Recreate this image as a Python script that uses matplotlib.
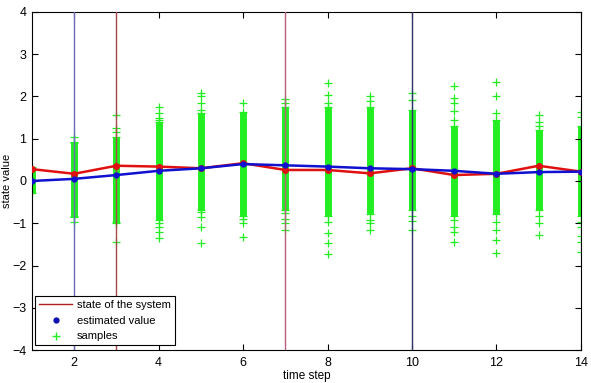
import matplotlib
matplotlib.use("Agg")
import matplotlib.pyplot as plt
from matplotlib.lines import Line2D

plt.rcParams["font.family"] = ["Liberation Sans", "DejaVu Sans"]

# time steps and the two trajectories
steps = [1, 2, 3, 4, 5, 6, 7, 8, 9, 10, 11, 12, 13, 14]
true_state = [0.28, 0.17, 0.36, 0.34, 0.30, 0.42, 0.26, 0.26, 0.18, 0.30, 0.14, 0.17, 0.36, 0.22]
estimate = [0.00, 0.05, 0.14, 0.24, 0.30, 0.40, 0.37, 0.34, 0.30, 0.28, 0.24, 0.17, 0.21, 0.22]

# dense part of each sample cloud (low, high)
dense_low = [-0.29, -0.84, -0.96, -0.92, -0.69, -0.84, -0.69, -0.84, -0.77, -0.69, -0.84, -0.77, -0.69, -0.84]
dense_high = [0.34, 0.89, 1.05, 1.40, 1.60, 1.64, 1.76, 1.76, 1.76, 1.68, 1.29, 1.44, 1.21, 1.29]

# scattered samples outside the dense part
outliers = {
    2: [1.05, 0.93, -0.85, -0.96],
    3: [1.25, 1.17, 1.55, -1.00, -1.44],
    4: [1.76, 1.60, 1.50, 1.45, -1.00, -1.10, -1.20, -1.35],
    5: [2.07, 2.00, 1.84, 1.68, -0.73, -0.85, -1.08, -1.46],
    6: [1.84, -0.90, -1.00, -1.32],
    7: [1.93, 1.84, -0.76, -0.90, -1.00, -1.16],
    8: [2.31, 2.03, 1.84, -0.97, -1.24, -1.47, -1.73],
    9: [2.01, 1.88, -0.92, -1.00, -1.16],
    10: [2.07, 1.92, -0.84, -0.95, -1.16],
    11: [2.25, 1.96, 1.84, 1.65, 1.45, -0.92, -1.10, -1.20, -1.44],
    12: [2.35, 2.00, 1.60, -0.97, -1.16, -1.40, -1.70],
    13: [1.56, 1.40, 1.30, -0.84, -1.00, -1.28],
    14: [1.64, 1.52, -0.97, -1.10, -1.30, -1.45, -1.67],
}

# resampling marks drawn as full-height vertical lines
resample_steps = [2, 3, 7, 10]
resample_colors = ["#6a6ab8", "#a84848", "#b86078", "#30306a"]

green = "#22ee22"

fig = plt.figure(figsize=(5.91, 3.83), dpi=100)
ax = fig.add_axes([0.054, 0.086, 0.929, 0.883])

ax.vlines(steps, dense_low, dense_high, color=green, linewidth=5, zorder=1)
sx, sy = [], []
for s, lo, hi in zip(steps, dense_low, dense_high):
    sx += [s, s]
    sy += [lo, hi]
for s, vals in outliers.items():
    sx += [s] * len(vals)
    sy += vals
ax.plot(sx, sy, "+", color=green, markersize=6, markeredgewidth=0.9, zorder=2)

for s, c in zip(resample_steps, resample_colors):
    ax.axvline(s, color=c, linewidth=1.0, zorder=3)

ax.plot(steps, true_state, "-o", color="#e01010", linewidth=1.8, markersize=4, zorder=4)
ax.plot(steps, estimate, "-o", color="#1010d0", linewidth=1.8, markersize=3.5, zorder=5)

ax.set_xlim(1, 14)
ax.set_ylim(-4, 4)
ax.set_xticks([2, 4, 6, 8, 10, 12, 14])
ax.set_yticks([-4, -3, -2, -1, 0, 1, 2, 3, 4])
ax.tick_params(direction="in", top=True, right=True, labelsize=9, length=4, width=0.8)
ax.tick_params(axis="x", pad=5)
ax.tick_params(axis="y", pad=4)
for sp in ax.spines.values():
    sp.set_linewidth(0.8)
ax.set_xlabel("time step", fontsize=8.5, labelpad=1)
ax.set_ylabel("state value", fontsize=8, labelpad=0)
ax.yaxis.set_label_coords(-0.036, 0.5)

handles = [
    Line2D([], [], color="#b02020", linewidth=1.0),
    Line2D([], [], linestyle="none", marker="o", color="#1010b0", markersize=3.5),
    Line2D([], [], linestyle="none", marker="+", color=green, markersize=6),
]
leg = ax.legend(handles, ["state of the system", "estimated value", "samples"],
                loc="lower left", bbox_to_anchor=(0.006, 0.014), fontsize=8,
                fancybox=False, framealpha=1, edgecolor="black",
                borderpad=0.35, labelspacing=0.5, handlelength=3.0, handletextpad=0.4,
                borderaxespad=0)
leg.get_frame().set_linewidth(0.8)
leg.set_zorder(10)

fig.savefig("out.png", dpi=100)
